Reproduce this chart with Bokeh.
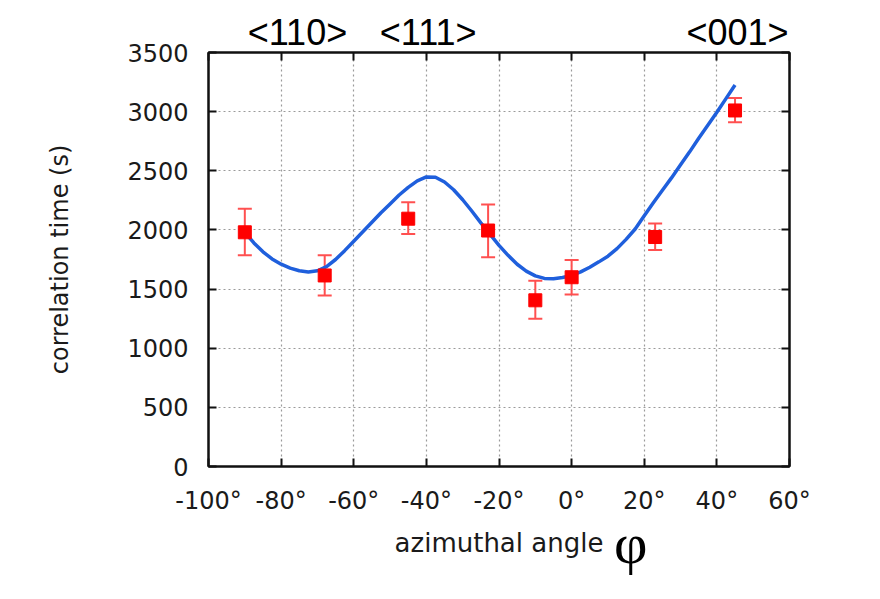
from bokeh.plotting import figure
from bokeh.models import (ColumnDataSource, Whisker, LinearAxis, Range1d,
                          FixedTicker, PrintfTickFormatter, CustomJSTickFormatter)
from bokeh.embed import file_html
from bokeh.resources import INLINE

# ---- data ----
angle = [-90, -68, -45, -23, -10, 0, 23, 45]
corr_time = [1980, 1615, 2095, 1995, 1405, 1600, 1940, 3010]
err_low = [1785, 1445, 1965, 1770, 1250, 1455, 1830, 2910]
err_high = [2180, 1785, 2235, 2215, 1570, 1745, 2055, 3115]

fit_angle = [-90, -87.5, -85, -82.5, -80, -77.5, -75, -72.5, -70, -67.5, -65, -62.5,
             -60, -57.5, -55, -52.5, -50, -47.5, -45, -42.5, -40, -37.5, -35, -32.5,
             -30, -27.5, -25, -22.5, -20, -17.5, -15, -12.5, -10, -7.5, -5, -2.5,
             0, 2.5, 5, 7.5, 10, 12.5, 15, 17.5, 20, 22.5, 25, 27.5, 30, 32.5,
             35, 37.5, 40, 42.5, 45]
fit_time = [1980, 1890, 1815, 1755, 1710, 1677, 1655, 1645, 1655, 1690, 1750, 1825,
            1905, 1985, 2065, 2145, 2220, 2295, 2360, 2415, 2448, 2445, 2405, 2340,
            2255, 2160, 2060, 1965, 1870, 1785, 1710, 1652, 1612, 1590, 1588, 1598,
            1615, 1645, 1684, 1730, 1778, 1842, 1920, 2008, 2120, 2230, 2335, 2440,
            2550, 2660, 2775, 2885, 2995, 3110, 3225]

x_ticks = [-100, -80, -60, -40, -20, 0, 20, 40, 60]
y_ticks = [0, 500, 1000, 1500, 2000, 2500, 3000, 3500]

directions = ["<110>", "<111>", "<001>"]
direction_angle = [-75.5, -39.5, 45.7]

phi_symbol = "φ"
phi_angle = 16.3

FONT = "DejaVu Sans"

p = figure(width=880, height=599, output_backend="svg", toolbar_location=None,
           x_range=Range1d(-100, 60), y_range=Range1d(0, 3500),
           min_border_left=208, min_border_right=91, min_border_top=52,
           min_border_bottom=133, background_fill_color="white",
           border_fill_color="white")
p.xaxis.visible = False
p.yaxis.visible = False
p.outline_line_color = "#111111"
p.outline_line_width = 2

xt = FixedTicker(ticks=x_ticks)
yt = FixedTicker(ticks=y_ticks)

def style_axis(ax, show_labels):
    ax.axis_line_color = "#111111"
    ax.axis_line_width = 2
    ax.major_tick_in = 8
    ax.major_tick_out = 0
    ax.major_tick_line_color = "#111111"
    ax.major_tick_line_width = 2
    ax.minor_tick_line_color = None
    ax.major_label_text_font = FONT
    ax.major_label_text_font_size = "24px"
    ax.major_label_text_color = "#1a1a1a"
    ax.axis_label_text_font = FONT
    ax.axis_label_text_font_size = "24px"
    ax.axis_label_text_font_style = "normal"
    ax.axis_label_text_color = "#1a1a1a"
    if not show_labels:
        ax.major_label_text_font_size = "0px"

def text_only_axis(ticks, labels, font, size, standoff):
    ax = LinearAxis(ticker=FixedTicker(ticks=ticks),
                    major_label_overrides={t: s for t, s in zip(ticks, labels)})
    ax.axis_line_color = None
    ax.major_tick_line_color = None
    ax.minor_tick_line_color = None
    ax.major_tick_in = 0
    ax.major_tick_out = 0
    ax.major_label_standoff = standoff
    ax.major_label_text_font = font
    ax.major_label_text_font_size = size
    ax.major_label_text_color = "black"
    return ax

bx = LinearAxis(ticker=xt, formatter=PrintfTickFormatter(format="%d°"),
                axis_label="azimuthal angle")
style_axis(bx, True)
bx.axis_label_text_font_size = "26px"
bx.major_label_standoff = 20
bx.axis_label_standoff = 10
p.add_layout(bx, "below")

# phi symbol next to the x-axis title
p.add_layout(text_only_axis([phi_angle], [phi_symbol], "Liberation Serif", "58px", -50),
             "below")

ly = LinearAxis(ticker=yt, axis_label="correlation time (s)")
style_axis(ly, True)
ly.major_label_standoff = 20
ly.axis_label_standoff = 50
p.add_layout(ly, "left")

tx = LinearAxis(ticker=xt, formatter=CustomJSTickFormatter(code="return ''"))
style_axis(tx, False)
tx.major_label_standoff = 0
p.add_layout(tx, "above")

# crystal direction labels along the top
p.add_layout(text_only_axis(direction_angle, directions, "Liberation Sans", "36px", 0),
             "above")

ry = LinearAxis(ticker=yt, formatter=CustomJSTickFormatter(code="return ''"))
style_axis(ry, False)
ry.major_label_standoff = 0
p.add_layout(ry, "right")

p.xgrid.ticker = xt
p.ygrid.ticker = yt
for g in (p.xgrid, p.ygrid):
    g.grid_line_color = "#9a9a9a"
    g.grid_line_dash = "2 3"
    g.grid_line_width = 1.2

# fit curve
p.line(fit_angle, fit_time, line_color="#1f5fdc", line_width=3.5)

# error bars + points
src = ColumnDataSource(dict(x=angle, y=corr_time, lo=err_low, hi=err_high))
wh = Whisker(source=src, base="x", upper="hi", lower="lo",
             line_color="#ff5050", line_width=2)
for head in (wh.upper_head, wh.lower_head):
    head.size = 14
    head.line_color = "#ff5050"
    head.line_width = 2
p.add_layout(wh)
p.scatter("x", "y", source=src, marker="square", size=13,
          fill_color="#ff0000", line_color="#ff0000")

open("out.html", "w").write(file_html(p, INLINE))
